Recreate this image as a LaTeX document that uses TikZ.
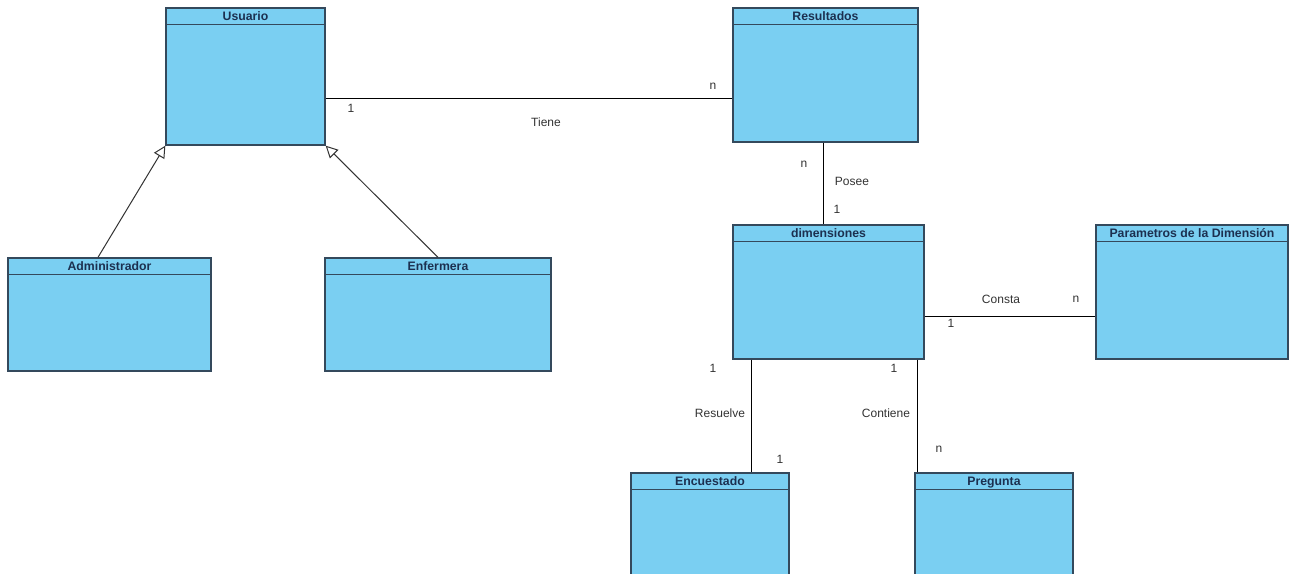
\documentclass[tikz,border=0pt]{standalone}
\usepackage{fontspec}
\setmainfont{Liberation Sans}
\usetikzlibrary{fit,arrows.meta}
\definecolor{clsfill}{HTML}{7ACFF2}
\definecolor{clsborder}{HTML}{34495C}
\definecolor{hdrtext}{HTML}{1C3050}
\definecolor{lbltext}{HTML}{333333}
\tikzset{
  cls/.style={draw=clsborder, fill=clsfill, line width=1pt, inner sep=0pt},
  hdr/.style={font=\bfseries\fontsize{9.2}{10}\selectfont, text=hdrtext, inner sep=0pt, anchor=base},
  hdrline/.style={draw=clsborder, line width=0.9pt},
  assoc/.style={draw=black, line width=0.75pt},
  gen/.style={draw=black!80, line width=0.75pt, -{Triangle[open,length=9pt,width=9pt]}},
  lbl/.style={font=\fontsize{9}{10}\selectfont, text=lbltext, inner sep=0pt},
}
\newcommand{\umlcls}[6]{%
  \node[cls, fit={(#2,#3) (#4,#5)}] (#1) {};
  \draw[hdrline] ([yshift=-12.75pt]#1.north west) -- ([yshift=-12.75pt]#1.north east);
  \node[hdr] at ([yshift=-9.9pt]#1.north) {#6};
}
\begin{document}
\begin{tikzpicture}[x=0.75pt,y=-0.75pt]
\clip (0,0) rectangle (1297,574);
\fill[white] (0,0) rectangle (1297,574);

\umlcls{usuario}{166}{8}{325}{145}{Usuario}
\umlcls{resultados}{733}{8}{918}{142}{Resultados}
\umlcls{admin}{8}{258}{211}{371}{Administrador}
\umlcls{enfermera}{325}{258}{551}{371}{Enfermera}
\umlcls{dimensiones}{733}{225}{924}{359}{dimensiones}
\umlcls{parametros}{1096}{225}{1288}{359}{Parametros de la Dimensión}
\umlcls{encuestado}{631}{473}{789}{610}{Encuestado}
\umlcls{pregunta}{915}{473}{1073}{610}{Pregunta}

% guide coordinates
\coordinate (yTiene) at (0,99);
\coordinate (xPosee) at (823,0);
\coordinate (yConsta) at (0,316);
\coordinate (xResuelve) at (751,0);
\coordinate (xContiene) at (917,0);
\coordinate (xAdmin) at (98,0);

% associations
\draw[assoc] (usuario.east |- yTiene) -- (resultados.west |- yTiene);
\draw[assoc] (resultados.south -| xPosee) -- (dimensiones.north -| xPosee);
\draw[assoc] (dimensiones.east |- yConsta) -- (parametros.west |- yConsta);
\draw[assoc] (dimensiones.south -| xResuelve) -- (encuestado.north -| xResuelve);
\draw[assoc] (dimensiones.south -| xContiene) -- (pregunta.north -| xContiene);

% generalizations
\draw[gen] (admin.north -| xAdmin) -- (usuario.south west);
\draw[gen] (enfermera.north) -- (usuario.south east);

% labels
\node[lbl] (l1) at (351,108) {1};
\node[lbl] (l2) at (713,86) {n};
\node[lbl] (l3) at (546,122) {Tiene};
\node[lbl] (l4) at (804,164) {n};
\node[lbl] (l5) at (852,181) {Posee};
\node[lbl] (l6) at (837,209) {1};
\node[lbl] (l7) at (1001,299) {Consta};
\node[lbl] (l8) at (1076,299) {n};
\node[lbl] (l9) at (951,323) {1};
\node[lbl] (l10) at (713,368) {1};
\node[lbl] (l11) at (720,413) {Resuelve};
\node[lbl] (l12) at (780,459) {1};
\node[lbl] (l13) at (894,368) {1};
\node[lbl] (l14) at (886,413) {Contiene};
\node[lbl] (l15) at (939,449) {n};
\end{tikzpicture}
\end{document}
